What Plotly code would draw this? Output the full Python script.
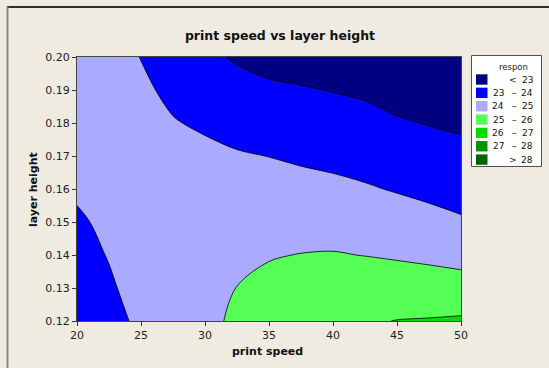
import plotly.graph_objects as go

# ---- data ----
speed = [20, 22.5, 25, 27.5, 30, 32.5, 35, 37.5, 40, 42.5, 45, 47.5, 50]
layer = [0.12, 0.13, 0.14, 0.15, 0.16, 0.17, 0.18, 0.19, 0.20]
respon = [
    [23.32, 23.75, 24.15, 24.51, 24.83, 25.12, 25.37, 25.59, 25.77, 25.91, 26.02, 26.06, 26.12],
    [23.52, 23.895, 24.30, 24.57, 24.80, 25.01, 25.20, 25.42, 25.50, 25.58, 25.46, 25.42, 25.37],
    [23.72, 24.04, 24.40, 24.58, 24.74, 24.82, 24.95, 25.02, 25.05, 24.98, 24.91, 24.82, 24.70],
    [23.92, 24.12, 24.45, 24.52, 24.62, 24.60, 24.63, 24.64, 24.61, 24.53, 24.42, 24.28, 24.10],
    [24.08, 24.19, 24.45, 24.40, 24.45, 24.35, 24.32, 24.27, 24.20, 24.08, 23.94, 23.79, 23.66],
    [24.21, 24.25, 24.40, 24.25, 24.20, 24.07, 23.99, 23.88, 23.78, 23.67, 23.52, 23.38, 23.25],
    [24.34, 24.30, 24.30, 24.05, 23.88, 23.71, 23.57, 23.47, 23.37, 23.27, 23.09, 22.96, 22.86],
    [24.46, 24.34, 24.15, 23.82, 23.53, 23.31, 23.15, 23.06, 22.97, 22.87, 22.66, 22.58, 22.51],
    [24.58, 24.36, 23.98, 23.60, 23.18, 22.90, 22.70, 22.65, 22.55, 22.47, 22.25, 22.20, 22.16],
]
levels = [23, 24, 25, 26, 27, 28]
band_colors = ["#000080", "#0000FF", "#AAAAFF", "#55FF55", "#00DD00", "#009600", "#006400"]
x_ticks = [20, 25, 30, 35, 40, 45, 50]
y_ticks = [0.12, 0.13, 0.14, 0.15, 0.16, 0.17, 0.18, 0.19, 0.20]

W, H = 549, 368
L, R, T, B = 77, 88, 57, 47
PW, PH = W - L - R, H - T - B
FONT = "DejaVu Sans"
BG = "#EFEBE1"


def px(x):
    return (x - L) / PW


def py(y):
    return (H - B - y) / PH


nb = len(band_colors)
colorscale = [[i / (nb - 1), c] for i, c in enumerate(band_colors)]

fig = go.Figure()
fig.add_trace(go.Contour(
    x=speed, y=layer, z=respon,
    autocontour=False,
    contours=dict(start=levels[0], end=levels[-1], size=levels[1] - levels[0],
                  coloring="fill", showlines=True),
    line=dict(color="black", width=0.8, smoothing=1),
    colorscale=colorscale, showscale=False, hoverinfo="x+y+z",
))

shapes = []
annotations = []

# window frame
shapes.append(dict(type="line", xref="paper", yref="paper",
                   x0=px(7), x1=px(549), y0=py(7), y1=py(7),
                   line=dict(color="#2E2E2E", width=2)))
shapes.append(dict(type="line", xref="paper", yref="paper",
                   x0=px(7.5), x1=px(7.5), y0=py(7), y1=py(368),
                   line=dict(color="#8A8A8A", width=2)))

# legend box
shapes.append(dict(type="rect", xref="paper", yref="paper",
                   x0=px(471.5), x1=px(541.5), y0=py(166.5), y1=py(55.5),
                   fillcolor="white", line=dict(color="#505050", width=1)))
annotations.append(dict(text="respon", xref="paper", yref="paper",
                        x=px(513), y=py(67), xanchor="center", yanchor="middle",
                        showarrow=False, font=dict(family=FONT, size=8.5, color="#222")))
row0, dy = 79.5, 13.35
for i, c in enumerate(band_colors):
    cy = row0 + i * dy
    shapes.append(dict(type="rect", xref="paper", yref="paper",
                       x0=px(476), x1=px(487.5), y0=py(cy + 5.2), y1=py(cy - 5.2),
                       fillcolor=c, line=dict(width=0)))
    f = dict(family=FONT, size=9, color="#111")
    if i == 0:
        parts = [("<", 512.5, "center"), (str(levels[0]), 535, "right")]
    elif i == nb - 1:
        parts = [(">", 512.5, "center"), (str(levels[-1]), 535, "right")]
    else:
        parts = [(str(levels[i - 1]), 506, "right"), ("–", 514.5, "center"),
                 (str(levels[i]), 535, "right")]
    for t, xx, anc in parts:
        annotations.append(dict(text=t, xref="paper", yref="paper", x=px(xx), y=py(cy),
                                xanchor=anc, yanchor="middle", showarrow=False, font=f))

# axis titles
annotations.append(dict(text="<b>print speed</b>", xref="paper", yref="paper",
                        x=px(267), y=py(351), xanchor="center", yanchor="middle",
                        showarrow=False, font=dict(family=FONT, size=11, color="#111")))
annotations.append(dict(text="<b>layer height</b>", xref="paper", yref="paper",
                        x=px(33), y=py(190), xanchor="center", yanchor="middle",
                        textangle=-90, showarrow=False,
                        font=dict(family=FONT, size=11, color="#111")))

axis_common = dict(showgrid=False, zeroline=False, showline=True, mirror=True,
                   linecolor="#444", linewidth=1, ticks="outside", ticklen=4,
                   tickcolor="#333", tickfont=dict(family=FONT, size=11, color="#222"))

fig.update_layout(
    width=W, height=H,
    margin=dict(l=L, r=R, t=T, b=B),
    paper_bgcolor=BG, plot_bgcolor=BG,
    title=dict(text="<b>print speed vs layer height</b>", xref="paper", x=px(280),
               xanchor="center", yref="container", y=1 - 36 / H, yanchor="middle",
               font=dict(family=FONT, size=12.5, color="#111")),
    xaxis=dict(range=[speed[0], speed[-1]], tickvals=x_ticks, **axis_common),
    yaxis=dict(range=[layer[0], layer[-1]], tickvals=y_ticks, tickformat=".2f", **axis_common),
    shapes=shapes, annotations=annotations, showlegend=False,
)

fig.write_html("out.html", config={"displayModeBar": False},
               post_script="document.body.style.margin='0';document.body.style.background='" + BG + "';")
